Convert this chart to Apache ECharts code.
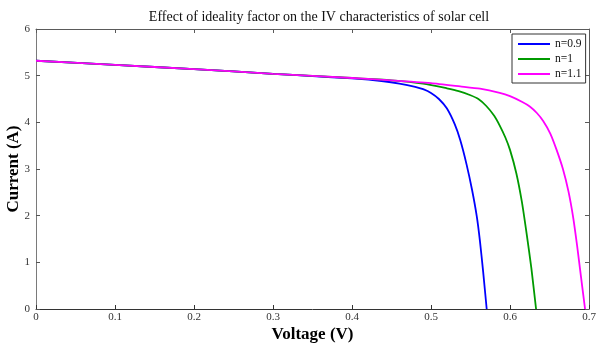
<!DOCTYPE html>
<html>
<head>
<meta charset="utf-8">
<script src="https://cdn.jsdelivr.net/npm/echarts@6/dist/echarts.min.js"></script>
<style>
  html, body { margin: 0; padding: 0; background: #fff; }
  #chart { width: 596px; height: 344px; }
</style>
</head>
<body>
<div id="chart"></div>
<script>
// [voltage, current] pairs
const seriesNames = ['n=0.9', 'n=1', 'n=1.1'];

const n09 = [
  [0, 5.32], [0.1, 5.23], [0.2, 5.14], [0.3, 5.04], [0.35, 4.99], [0.4, 4.94],
  [0.44, 4.88], [0.46, 4.83], [0.48, 4.76], [0.49, 4.71], [0.50, 4.63],
  [0.51, 4.50], [0.52, 4.30], [0.53, 3.96], [0.537, 3.62], [0.545, 3.10],
  [0.552, 2.55], [0.558, 1.98], [0.562, 1.45], [0.566, 0.80], [0.5705, 0]
];

const n10 = [
  [0, 5.32], [0.1, 5.23], [0.2, 5.14], [0.3, 5.04], [0.4, 4.95], [0.45, 4.90],
  [0.49, 4.83], [0.52, 4.73], [0.535, 4.67], [0.55, 4.58], [0.56, 4.50],
  [0.570, 4.35], [0.58, 4.14], [0.587, 3.93], [0.594, 3.68], [0.600, 3.41],
  [0.608, 2.91], [0.615, 2.30], [0.621, 1.62], [0.627, 0.88], [0.633, 0]
];

const n11 = [
  [0, 5.32], [0.1, 5.23], [0.2, 5.14], [0.3, 5.04], [0.4, 4.95], [0.45, 4.90],
  [0.5, 4.84], [0.537, 4.77], [0.562, 4.72], [0.587, 4.63], [0.6, 4.56],
  [0.615, 4.44], [0.625, 4.34], [0.634, 4.20], [0.642, 4.03], [0.651, 3.76],
  [0.659, 3.41], [0.667, 3.00], [0.674, 2.52], [0.680, 1.96], [0.685, 1.35],
  [0.690, 0.67], [0.695, 0]
];

const seriesData = [n09, n10, n11];
const seriesColors = ['#0000ff', '#009a00', '#ff00ff'];

const serif = '"Liberation Serif", "DejaVu Serif", serif';
const boxColor = '#5a5a5a';

const chart = echarts.init(document.getElementById('chart'));

const mirrorAxis = {
  axisLine: { show: true, onZero: false, lineStyle: { color: boxColor } },
  axisTick: { show: true, inside: true, length: 4, lineStyle: { color: boxColor } },
  axisLabel: { show: false },
  splitLine: { show: false }
};

const option = {
  animation: false,
  title: {
    text: 'Effect of ideality factor on the IV characteristics of solar cell',
    left: 314,
    textAlign: 'center',
    top: 5,
    textStyle: { fontFamily: serif, fontSize: 14, fontWeight: 'normal', color: '#111' }
  },
  legend: {
    orient: 'vertical',
    left: 512,
    top: 34,
    padding: [3, 4, 2, 6],
    itemGap: 1,
    itemWidth: 32,
    itemHeight: 2,
    icon: 'rect',
    backgroundColor: '#fff',
    borderColor: '#333',
    borderWidth: 1,
    borderRadius: 0,
    textStyle: { fontFamily: serif, fontSize: 11.5, color: '#111', lineHeight: 14 },
    data: seriesNames
  },
  grid: { left: 36, right: 7, top: 29, bottom: 35, outerBoundsMode: 'none' },
  xAxis: [
    {
      type: 'value',
      min: 0,
      max: 0.7,
      interval: 0.1,
      name: 'Voltage (V)',
      nameLocation: 'middle',
      nameGap: 17,
      nameMoveOverlap: false,
      nameTextStyle: { fontFamily: serif, fontSize: 17, fontWeight: 'bold', color: '#000' },
      axisLine: { show: true, lineStyle: { color: '#333' } },
      axisTick: { show: true, inside: true, length: 4, lineStyle: { color: '#333' } },
      axisLabel: { fontFamily: serif, fontSize: 11, color: '#333', margin: 3 },
      splitLine: { show: false }
    },
    Object.assign({ type: 'value', position: 'top', min: 0, max: 0.7, interval: 0.1 }, mirrorAxis)
  ],
  yAxis: [
    {
      type: 'value',
      min: 0,
      max: 6,
      interval: 1,
      name: 'Current (A)',
      nameLocation: 'middle',
      nameGap: 14,
      nameMoveOverlap: false,
      nameTextStyle: { fontFamily: serif, fontSize: 17, fontWeight: 'bold', color: '#000' },
      axisLine: { show: true, lineStyle: { color: '#7a7a7a' } },
      axisTick: { show: true, inside: true, length: 4, lineStyle: { color: '#555' } },
      axisLabel: { fontFamily: serif, fontSize: 11, color: '#333', margin: 6 },
      splitLine: { show: false }
    },
    Object.assign({ type: 'value', position: 'right', min: 0, max: 6, interval: 1 }, mirrorAxis)
  ],
  series: seriesNames.map((name, i) => ({
    name: name,
    type: 'line',
    data: seriesData[i],
    showSymbol: false,
    smooth: 0.2,
    color: seriesColors[i],
    lineStyle: { width: 1.8, color: seriesColors[i] }
  }))
};

chart.setOption(option);
</script>
</body>
</html>
